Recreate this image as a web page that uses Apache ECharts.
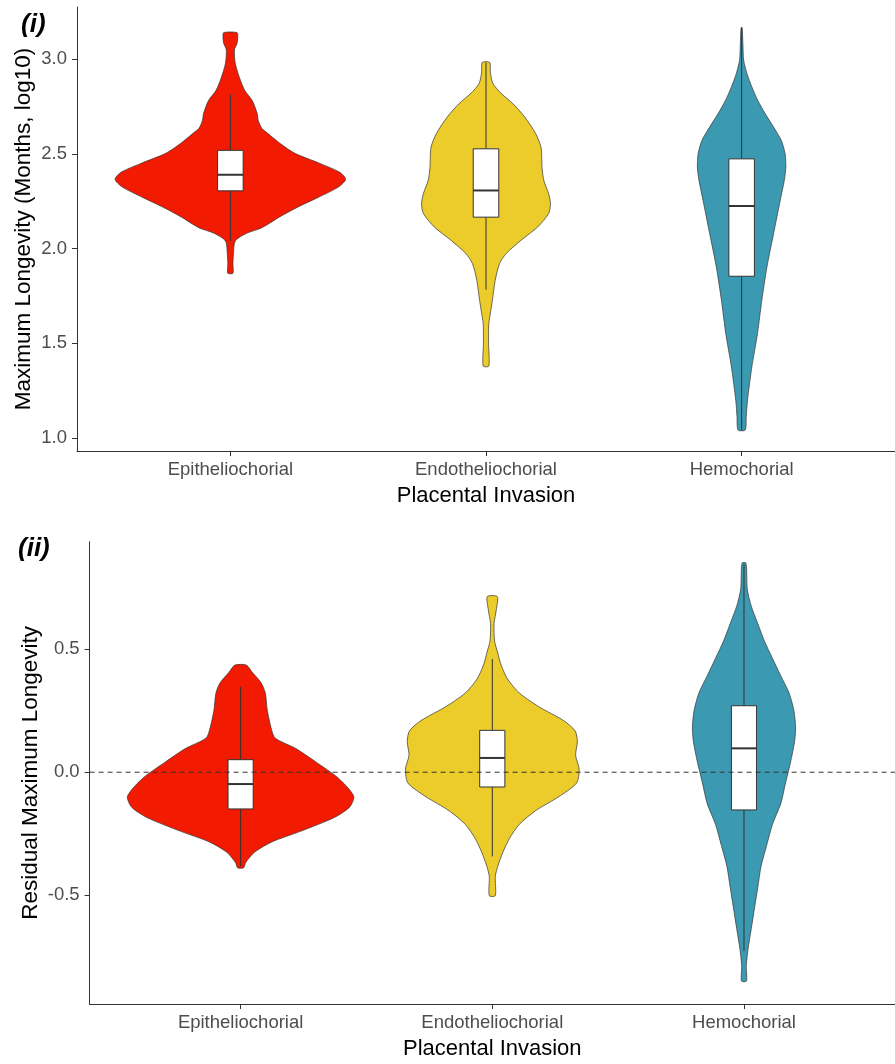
<!DOCTYPE html>
<html><head><meta charset="utf-8">
<script src="https://cdn.jsdelivr.net/npm/echarts@6/dist/echarts.min.js"></script>
<style>html,body{margin:0;padding:0;background:#fff}#c{width:895px;height:1064px}</style>
</head><body><div id="c"></div><script>
// ---------- data ----------
const categories = ['Epitheliochorial', 'Endotheliochorial', 'Hemochorial'];
const groupColors = ['#F21A00', '#EBCC2A', '#3B9AB2'];
const ticksA = [1.0, 1.5, 2.0, 2.5, 3.0];
const ticksB = [-0.5, 0.0, 0.5];
const titleA = 'Maximum Longevity (Months, log10)';
const titleB = 'Residual Maximum Longevity';
const xTitle = 'Placental Invasion';

// violin profiles: [value, half-width (x-axis units)], top to bottom
const violinA_Epi = [[3.141,0.026],[3.118,0.029],[3.083,0.026],[3.05,0.016],[2.98,0.019],[2.905,0.035],[2.836,0.056],[2.783,0.085],[2.714,0.105],[2.678,0.109],[2.635,0.123],[2.609,0.146],[2.555,0.195],[2.503,0.253],[2.45,0.350],[2.403,0.428],[2.366,0.451],[2.326,0.424],[2.27,0.343],[2.22,0.265],[2.166,0.191],[2.11,0.123],[2.08,0.062],[2.04,0.019],[1.97,0.012],[1.92,0.010],[1.87,0.010]];
const violinA_Endo = [[2.983,0.015],[2.933,0.017],[2.872,0.027],[2.819,0.060],[2.766,0.105],[2.696,0.151],[2.608,0.194],[2.537,0.215],[2.484,0.218],[2.431,0.219],[2.361,0.226],[2.29,0.245],[2.237,0.252],[2.185,0.245],[2.114,0.202],[2.044,0.137],[1.974,0.079],[1.921,0.053],[1.833,0.036],[1.727,0.025],[1.657,0.017],[1.604,0.011],[1.5,0.010],[1.38,0.011]];
const violinA_Hemo = [[3.167,0.002],[3.08,0.005],[2.995,0.008],[2.924,0.021],[2.854,0.040],[2.783,0.063],[2.713,0.092],[2.642,0.125],[2.572,0.155],[2.502,0.170],[2.431,0.173],[2.361,0.167],[2.255,0.151],[2.079,0.125],[1.903,0.099],[1.727,0.079],[1.551,0.062],[1.375,0.040],[1.2,0.023],[1.112,0.018],[1.042,0.014]];
const violinB_Epi = [[0.435,0.023],[0.406,0.046],[0.364,0.081],[0.322,0.098],[0.252,0.106],[0.181,0.121],[0.139,0.137],[0.097,0.218],[0.041,0.300],[-0.015,0.378],[-0.058,0.422],[-0.1,0.450],[-0.142,0.433],[-0.184,0.372],[-0.241,0.235],[-0.283,0.124],[-0.325,0.055],[-0.367,0.020],[-0.388,0.012]];
const violinB_Endo = [[0.713,0.020],[0.66,0.016],[0.603,0.007],[0.533,0.009],[0.491,0.020],[0.435,0.035],[0.378,0.061],[0.322,0.107],[0.266,0.185],[0.21,0.283],[0.168,0.329],[0.125,0.338],[0.069,0.331],[0.013,0.345],[-0.044,0.335],[-0.1,0.263],[-0.156,0.172],[-0.212,0.107],[-0.269,0.068],[-0.325,0.042],[-0.381,0.022],[-0.423,0.012],[-0.501,0.012]];
const violinB_Hemo = [[0.849,0.008],[0.744,0.013],[0.674,0.029],[0.603,0.055],[0.533,0.081],[0.463,0.113],[0.392,0.146],[0.322,0.179],[0.252,0.198],[0.181,0.205],[0.125,0.201],[0.041,0.185],[-0.044,0.165],[-0.128,0.146],[-0.212,0.113],[-0.297,0.090],[-0.381,0.068],[-0.466,0.055],[-0.55,0.042],[-0.635,0.029],[-0.719,0.016],[-0.789,0.009],[-0.848,0.010]];

// boxplots: [whisker low, Q1, median, Q3, whisker high]
const boxA = [[2.04,2.305,2.39,2.519,2.815],[1.783,2.166,2.307,2.527,2.983],[1.04,1.854,2.225,2.474,3.167]];
const boxB = [[-0.381,-0.149,-0.048,0.051,0.347],[-0.342,-0.06,0.058,0.17,0.46],[-0.726,-0.153,0.097,0.27,0.845]];
const refLineB = 0;

// ---------- chart ----------
const FONT = '"Liberation Sans", Arial, Helvetica, sans-serif';
const INK = '#333333';
const chart = echarts.init(document.getElementById('c'), null, {renderer: 'canvas'});

function xAxisCfg(gi) {
  return {
    type: 'value', gridIndex: gi, min: 0.4, max: 3.6,
    axisLine: {show: true, onZero: false, lineStyle: {color: INK, width: 1}},
    axisTick: {show: true, length: 5, lineStyle: {color: INK, width: 1}, customValues: [1, 2, 3]},
    axisLabel: {customValues: [1, 2, 3], formatter: v => categories[Math.round(v) - 1],
      color: '#4d4d4d', fontSize: 18.5, fontFamily: FONT, margin: 9},
    splitLine: {show: false},
    name: xTitle, nameLocation: 'middle', nameGap: 34, nameMoveOverlap: false,
    nameTextStyle: {color: '#000', fontSize: 22, fontFamily: FONT}
  };
}
function yAxisCfg(gi, min, max, ticks, title, gap) {
  return {
    type: 'value', gridIndex: gi, min: min, max: max,
    axisLine: {show: true, onZero: false, lineStyle: {color: INK, width: 1}},
    axisTick: {show: true, length: 5, lineStyle: {color: INK, width: 1}, customValues: ticks},
    axisLabel: {customValues: ticks, formatter: v => Number(v).toFixed(1),
      color: '#4d4d4d', fontSize: 18.5, fontFamily: FONT, margin: 10},
    splitLine: {show: false},
    name: title, nameLocation: 'middle', nameGap: gap, nameRotate: 90, nameMoveOverlap: false,
    nameTextStyle: {color: '#000', fontSize: 22.5, fontFamily: FONT}
  };
}
function violinSeries(gi, cat, profile, color) {
  const xc = cat + 1;
  return {
    type: 'custom', xAxisIndex: gi, yAxisIndex: gi, z: 2, silent: true,
    data: [[xc, profile[0][0]]],
    renderItem: (params, api) => {
      const pts = [];
      for (const [v, hw] of profile) pts.push(api.coord([xc + hw, v]));
      for (let i = profile.length - 1; i >= 0; i--) pts.push(api.coord([xc - profile[i][1], profile[i][0]]));
      return {type: 'polygon', shape: {points: pts, smooth: 0.25}, style: {fill: color, stroke: INK, lineWidth: 0.7}};
    }
  };
}
function boxSeries(gi, boxes) {
  return {
    type: 'custom', xAxisIndex: gi, yAxisIndex: gi, z: 3, silent: true,
    data: boxes.map((b, i) => [i + 1].concat(b)),
    encode: {x: 0, y: [1, 2, 3, 4, 5]},
    renderItem: (params, api) => {
      const x = api.value(0), mn = api.value(1), q1 = api.value(2), md = api.value(3), q3 = api.value(4), mx = api.value(5);
      const w = 0.05;
      const pTop = api.coord([x, mx]), pQ3 = api.coord([x, q3]), pQ1 = api.coord([x, q1]), pMin = api.coord([x, mn]);
      const a = api.coord([x - w, q3]), b = api.coord([x + w, q1]);
      const m1 = api.coord([x - w, md]), m2 = api.coord([x + w, md]);
      return {type: 'group', children: [
        {type: 'line', shape: {x1: pTop[0], y1: pTop[1], x2: pQ3[0], y2: pQ3[1]}, style: {stroke: INK, lineWidth: 1}},
        {type: 'line', shape: {x1: pQ1[0], y1: pQ1[1], x2: pMin[0], y2: pMin[1]}, style: {stroke: INK, lineWidth: 1}},
        {type: 'rect', shape: {x: a[0], y: a[1], width: b[0] - a[0], height: b[1] - a[1]}, style: {fill: '#fff', stroke: INK, lineWidth: 1}},
        {type: 'line', shape: {x1: m1[0], y1: m1[1], x2: m2[0], y2: m2[1]}, style: {stroke: INK, lineWidth: 2}}
      ]};
    }
  };
}

const option = {
  animation: false,
  backgroundColor: '#fff',
  grid: [
    {left: 77, top: 7, width: 822, height: 444},
    {left: 89.6, top: 541.7, width: 818, height: 462.3}
  ],
  xAxis: [xAxisCfg(0), xAxisCfg(1)],
  yAxis: [
    yAxisCfg(0, 0.931, 3.276, ticksA, titleA, 42),
    yAxisCfg(1, -0.941, 0.936, ticksB, titleB, 47)
  ],
  graphic: [
    {type: 'text', left: 21, top: 12, style: {text: '(i)', font: 'italic bold 26px ' + FONT, fill: '#000'}},
    {type: 'text', left: 18, top: 536, style: {text: '(ii)', font: 'italic bold 26px ' + FONT, fill: '#000'}}
  ],
  series: [
    violinSeries(0, 0, violinA_Epi, groupColors[0]),
    violinSeries(0, 1, violinA_Endo, groupColors[1]),
    violinSeries(0, 2, violinA_Hemo, groupColors[2]),
    boxSeries(0, boxA),
    violinSeries(1, 0, violinB_Epi, groupColors[0]),
    violinSeries(1, 1, violinB_Endo, groupColors[1]),
    violinSeries(1, 2, violinB_Hemo, groupColors[2]),
    boxSeries(1, boxB),
    {
      type: 'line', xAxisIndex: 1, yAxisIndex: 1, z: 10, silent: true,
      data: [[0.4, refLineB], [3.6, refLineB]], symbol: 'none',
      lineStyle: {color: INK, width: 1, type: [5, 4]}
    }
  ]
};
chart.setOption(option);
</script></body></html>
